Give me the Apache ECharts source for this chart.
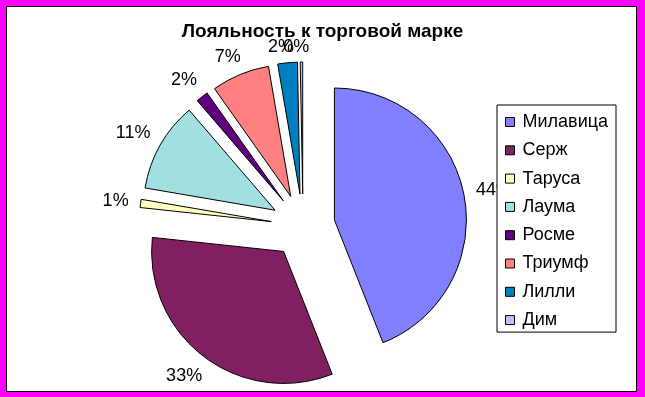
<!DOCTYPE html>
<html>
<head>
<meta charset="utf-8">
<script src="https://cdn.jsdelivr.net/npm/echarts@6/dist/echarts.min.js"></script>
<style>
  html, body { margin: 0; padding: 0; background: #fff; }
  #main { width: 645px; height: 397px; }
</style>
</head>
<body>
<div id="main"></div>
<script>
// Лояльность к торговой марке
var brands = ['Милавица', 'Серж', 'Таруса', 'Лаума', 'Росме', 'Триумф', 'Лилли', 'Дим'];
var shares = [44.0, 32.7, 1.0, 11.0, 1.5, 7.1, 2.4, 0.3];
var colors = ['#8080FF', '#802060', '#FFFFC0', '#A0E0E0', '#600080', '#FF8080', '#0080C0', '#C0C0FF'];

var font = '"Liberation Sans", Arial, sans-serif';
var lineLen = 24;   // where echarts puts the label centre, beyond the arc
var labelGap = 6;   // gap between arc and label box, like Excel does

var pieData = brands.map(function (name, i) {
    return { name: name, value: shares[i], selected: true };
});

// direction of each slice's bisector (clockwise from 12 o'clock)
var total = shares.reduce(function (a, b) { return a + b; }, 0);
var dirs = [];
var acc = 0;
shares.forEach(function (v) {
    var mid = (acc + v / 2) / total * Math.PI * 2;
    dirs.push([Math.sin(mid), -Math.cos(mid)]);
    acc += v;
});

var mychart = echarts.init(document.getElementById('main'));

var option = {
    animation: false,
    color: colors,
    graphic: [
        {
            type: 'rect', z: -10, silent: true,
            shape: { x: 0, y: 0, width: 645, height: 397 },
            style: { fill: '#FF00FF' }
        },
        {
            type: 'rect', z: -9, silent: true,
            shape: { x: 6.5, y: 6.5, width: 630, height: 385 },
            style: { fill: '#fff', stroke: '#000', lineWidth: 1 }
        }
    ],
    title: {
        text: 'Лояльность к торговой марке',
        left: 'center',
        top: 17,
        textStyle: { fontFamily: font, fontSize: 19, fontWeight: 'bold', color: '#000' }
    },
    legend: {
        orient: 'vertical',
        left: 497,
        top: 105,
        padding: [8, 8, 3, 8],
        itemGap: 10.3,
        itemWidth: 9,
        itemHeight: 9,
        icon: 'rect',
        backgroundColor: '#fff',
        borderColor: '#000',
        borderWidth: 1,
        selectedMode: false,
        itemStyle: { borderColor: '#000', borderWidth: 1 },
        textStyle: { fontFamily: font, fontSize: 18, color: '#000', padding: [0, 0, 0, 3] },
        data: brands
    },
    series: [
        {
            type: 'pie',
            center: [303, 226],
            radius: 132,
            startAngle: 90,
            clockwise: true,
            selectedMode: 'multiple',
            selectedOffset: 32,
            avoidLabelOverlap: false,
            minShowLabelAngle: 0,
            percentPrecision: 0,
            itemStyle: { borderColor: '#000', borderWidth: 1 },
            select: {
                itemStyle: { borderColor: '#000', borderWidth: 1 },
                label: { color: '#000' }
            },
            emphasis: { disabled: true },
            label: {
                show: true,
                position: 'outside',
                formatter: '{d}%',
                fontFamily: font,
                fontSize: 18,
                color: '#000'
            },
            labelLine: { show: false, length: lineLen, length2: 0 },
            labelLayout: function (params) {
                var d = dirs[params.dataIndex];
                var w = params.labelRect.width, h = 18;
                var shift = labelGap + Math.abs(d[0]) * w / 2 + Math.abs(d[1]) * h / 2 - lineLen;
                return {
                    align: 'center',
                    dx: d[0] * shift,
                    dy: d[1] * shift,
                    hideOverlap: false,
                    moveOverlap: false
                };
            },
            data: pieData
        }
    ]
};

option && mychart.setOption(option);
</script>
</body>
</html>
